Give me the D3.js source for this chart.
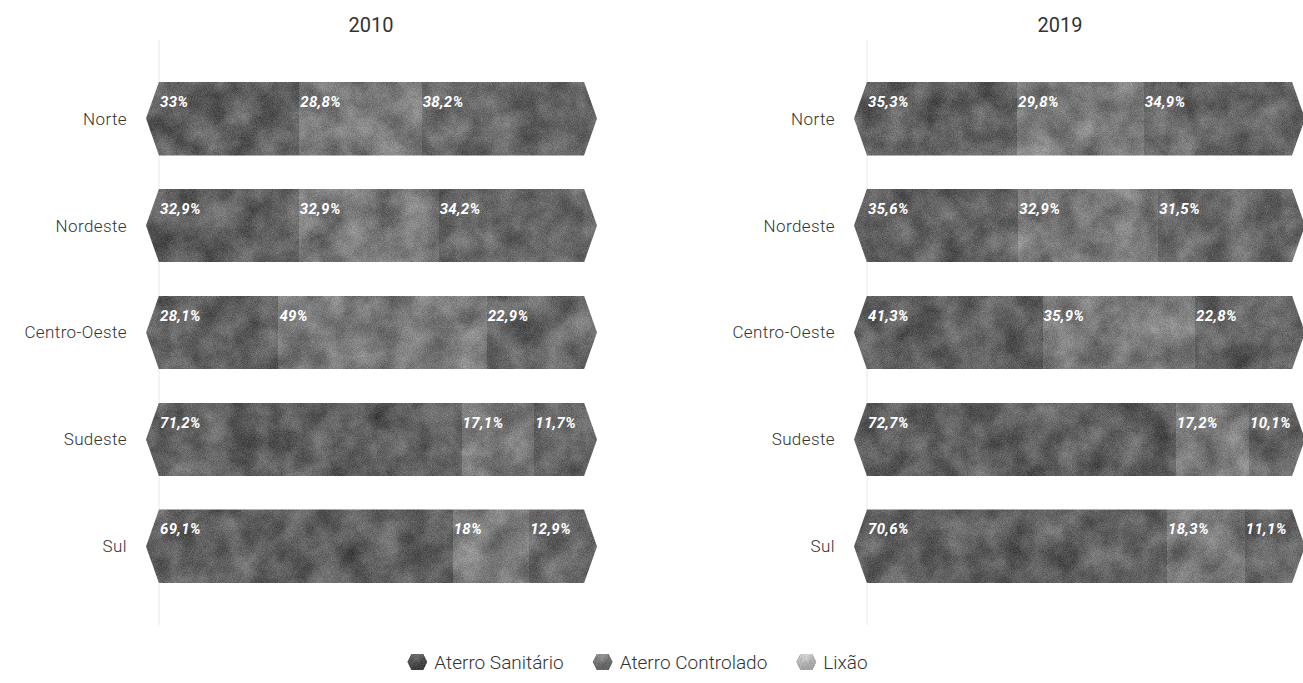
<!DOCTYPE html>
<html>
<head>
<meta charset="utf-8">
<script src="https://cdn.jsdelivr.net/npm/d3@7"></script>
<style>
  body { margin: 0; background: #fff; }
  svg { display: block; }
</style>
</head>
<body>
<div id="chart"></div>
<script>
// set the dimensions of the graph
const width = 1303,
    height = 683;

// data
const regions = ["Norte", "Nordeste", "Centro-Oeste", "Sudeste", "Sul"]
const categories = ["Aterro Sanitário", "Aterro Controlado", "Lixão"]
const years = ["2010", "2019"]

const sanitario2010 = [33, 32.9, 28.1, 71.2, 69.1]
const controlado2010 = [28.8, 32.9, 49, 17.1, 18]
const lixao2010 = [38.2, 34.2, 22.9, 11.7, 12.9]

const sanitario2019 = [35.3, 35.6, 41.3, 72.7, 70.6]
const controlado2019 = [29.8, 32.9, 35.9, 17.2, 18.3]
const lixao2019 = [34.9, 31.5, 22.8, 10.1, 11.1]

const panelSeries = [
    [sanitario2010, controlado2010, lixao2010],
    [sanitario2019, controlado2019, lixao2019]
]

// grey shades for each category (the original uses textured images)
const colorScale = d3.scaleOrdinal()
    .domain(categories)
    .range(["#606060", "#7a7a7a", "#676767"])

const legendColors = ["#575757", "#7c7c7c", "#bdbdbd"]

const panelLeft = [159, 867]
const titleX = [371, 1060]
const barWidth = 425
const tip = 13

const svg = d3.select("#chart")
    .append("svg")
    .attr("width", width)
    .attr("height", height)

// noise texture filter
const defs = svg.append("defs")
const grain = defs.append("filter")
    .attr("id", "grain")
    .attr("x", 0).attr("y", 0).attr("width", "100%").attr("height", "100%")
    .attr("color-interpolation-filters", "sRGB")
grain.append("feTurbulence")
    .attr("type", "fractalNoise")
    .attr("baseFrequency", 1.2)
    .attr("numOctaves", 1)
    .attr("seed", 4)
    .attr("result", "fine")
grain.append("feColorMatrix")
    .attr("in", "fine").attr("type", "matrix")
    .attr("values", "1 0 0 0 0  1 0 0 0 0  1 0 0 0 0  0 0 0 0 1")
    .attr("result", "fineG")
grain.append("feTurbulence")
    .attr("type", "fractalNoise")
    .attr("baseFrequency", 0.035)
    .attr("numOctaves", 3)
    .attr("seed", 9)
    .attr("result", "coarse")
grain.append("feColorMatrix")
    .attr("in", "coarse").attr("type", "matrix")
    .attr("values", "1 0 0 0 0  1 0 0 0 0  1 0 0 0 0  0 0 0 0 1")
    .attr("result", "coarseG")
grain.append("feComposite")
    .attr("in", "SourceGraphic").attr("in2", "fineG").attr("operator", "arithmetic")
    .attr("k1", 0).attr("k2", 1).attr("k3", 0.3).attr("k4", -0.15)
    .attr("result", "s1")
grain.append("feComposite")
    .attr("in", "s1").attr("in2", "coarseG").attr("operator", "arithmetic")
    .attr("k1", 0).attr("k2", 1).attr("k3", 0.35).attr("k4", -0.175)
    .attr("result", "s2")
grain.append("feComposite")
    .attr("in", "s2").attr("in2", "SourceGraphic").attr("operator", "in")

const y = d3.scaleBand()
    .domain(regions)
    .range([40, 625])
    .paddingInner(0.31)
    .paddingOuter(0.39)

const hexPath = (x0, x1, top, bottom) => {
    const mid = (top + bottom) / 2
    return `M${x0},${top}L${x1},${top}L${x1 + tip},${mid}L${x1},${bottom}L${x0},${bottom}L${x0 - tip},${mid}Z`
}

years.forEach((year, p) => {
    const x = d3.scaleLinear()
        .domain([0, 100])
        .range([panelLeft[p], panelLeft[p] + barWidth])

    const g = svg.append("g")

    // title
    g.append("text")
        .attr("x", titleX[p])
        .attr("y", 32)
        .attr("text-anchor", "middle")
        .style("font-family", "Roboto, sans-serif")
        .style("font-size", "20px")
        .style("fill", "#333")
        .text(year)

    // axis line + region labels
    g.append("line")
        .attr("x1", x(0)).attr("x2", x(0))
        .attr("y1", y.range()[0]).attr("y2", y.range()[1])
        .attr("stroke", "#e8e8e8")

    g.selectAll("text.region")
        .data(regions)
        .join("text")
        .attr("class", "region")
        .attr("x", x(0) - 32)
        .attr("y", d => y(d) + y.bandwidth() / 2)
        .attr("dy", "0.35em")
        .attr("text-anchor", "end")
        .style("font-family", "Roboto, sans-serif")
        .style("font-size", "17px")
        .style("font-weight", 300)
        .style("letter-spacing", "0.4px")
        .style("fill", "#333")
        .text(d => d)

    // stacked data
    const rows = regions.map((r, i) => {
        let acc = 0
        const segs = categories.map((c, k) => {
            const v = panelSeries[p][k][i]
            const s = { region: r, cat: c, k: k, start: acc, end: acc + v, value: v }
            acc += v
            return s
        })
        return { region: r, segs: segs }
    })

    rows.forEach((row, i) => {
        const top = y(row.region)
        const bottom = top + y.bandwidth()
        const clipId = `clip-${p}-${i}`
        defs.append("clipPath")
            .attr("id", clipId)
            .append("path")
            .attr("d", hexPath(x(0), x(100), top, bottom))

        const bar = g.append("g")
            .attr("clip-path", `url(#${clipId})`)
            .append("g")
            .attr("filter", "url(#grain)")

        bar.selectAll("rect")
            .data(row.segs)
            .join("rect")
            .attr("x", d => d.k === 0 ? x(d.start) - tip : x(d.start))
            .attr("y", top)
            .attr("width", d => x(d.end) - x(d.start) + (d.k === 0 || d.k === 2 ? tip : 1))
            .attr("height", y.bandwidth())
            .attr("fill", d => colorScale(d.cat))
            .attr("shape-rendering", "crispEdges")

        g.selectAll(null)
            .data(row.segs)
            .join("text")
            .attr("x", d => x(d.start) + 1)
            .attr("y", top + 25)
            .style("font-family", "Roboto, sans-serif")
            .style("font-size", "15px")
            .style("font-weight", "bold")
            .style("font-style", "italic")
            .style("letter-spacing", "0.3px")
            .style("fill", "#fff")
            .text(d => String(d.value).replace(".", ",") + "%")
    })
})

// legend
const legend = svg.append("g")
const items = legend.selectAll("g")
    .data(categories)
    .join("g")

items.append("path")
    .attr("d", "M-6,-8L6,-8L10,0L6,8L-6,8L-10,0Z")
    .attr("fill", (d, i) => legendColors[i])
    .attr("filter", "url(#grain)")

items.append("text")
    .attr("x", 17)
    .attr("dy", "0.35em")
    .style("font-family", "Roboto, sans-serif")
    .style("font-size", "19px")
    .style("font-weight", 300)
    .style("fill", "#333")
    .text(d => d)

let offset = 0
const gap = 19
items.each(function () {
    const w = this.getBBox().width
    d3.select(this).attr("transform", `translate(${offset},0)`)
    offset += w + gap + 10
})
const legendWidth = offset - gap - 10
legend.attr("transform", `translate(${(width - legendWidth) / 2 - 4},662)`)
</script>
</body>
</html>
